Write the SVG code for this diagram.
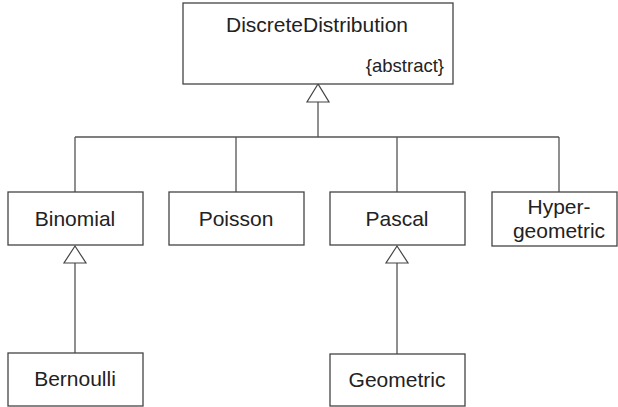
<svg xmlns="http://www.w3.org/2000/svg" width="618" height="407" viewBox="0 0 618 407">
<style>
.box{fill:#fff;stroke:#444;stroke-width:1.3}
.t{font-family:"Liberation Sans",Arial,sans-serif;font-size:21px;fill:#222;text-anchor:middle}
.s{font-family:"Liberation Sans",Arial,sans-serif;font-size:18.5px;fill:#222;text-anchor:end}
.ln{fill:none;stroke:#555;stroke-width:1.3}
.tri{fill:#fff;stroke:#444;stroke-width:1.2}
</style>
<rect width="618" height="407" fill="#fff"/>
<g id="connectors">
<path class="ln" d="M318 102V137M75 137H559M75 137V192M236 137V192M397 137V192M559 137V192M75 263V353M397 263V354"/>
<polygon class="tri" points="318,84 307,102 329,102"/>
<polygon class="tri" points="75,246 64,263 86,263"/>
<polygon class="tri" points="397,246 386,263 408,263"/>
</g>
<g id="DiscreteDistribution">
<rect class="box" x="183" y="3" width="270" height="81"/>
<text class="t" x="317" y="32">DiscreteDistribution</text>
<text class="s" x="444" y="72">{abstract}</text>
</g>
<g id="Binomial">
<rect class="box" x="8" y="192" width="135" height="53"/>
<text class="t" x="75" y="226">Binomial</text>
</g>
<g id="Poisson">
<rect class="box" x="169" y="192" width="135" height="53"/>
<text class="t" x="236" y="226">Poisson</text>
</g>
<g id="Pascal">
<rect class="box" x="330" y="192" width="135" height="53"/>
<text class="t" x="397" y="226">Pascal</text>
</g>
<g id="Hypergeometric">
<rect class="box" x="492" y="192" width="125" height="54"/>
<text class="t" x="559" y="214">Hyper-</text>
<text class="t" x="559" y="238">geometric</text>
</g>
<g id="Bernoulli">
<rect class="box" x="8" y="353" width="135" height="53"/>
<text class="t" x="75" y="386">Bernoulli</text>
</g>
<g id="Geometric">
<rect class="box" x="330" y="354" width="135" height="52"/>
<text class="t" x="397" y="387">Geometric</text>
</g>
</svg>
